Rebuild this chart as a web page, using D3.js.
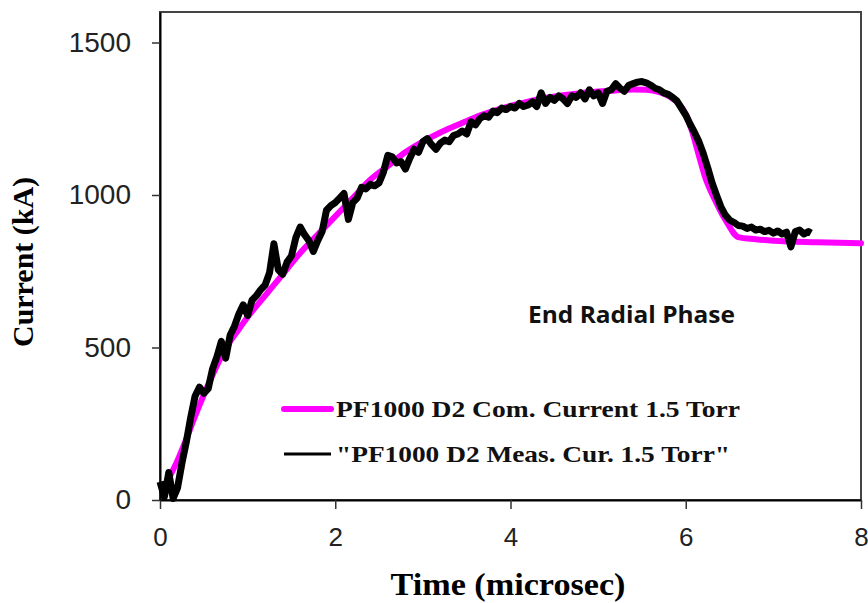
<!DOCTYPE html>
<html>
<head>
<meta charset="utf-8">
<script src="https://cdn.jsdelivr.net/npm/d3@7"></script>
<style>
	body { margin: 0; background: #fff; }
</style>
</head>
<body>
<script>
// computed current (magenta), time in microsec, current in kA
var comTime = [0.09, 0.20, 0.30, 0.40, 0.50, 0.60, 0.70, 0.80, 0.90, 1.00, 1.20, 1.40, 1.60, 1.80, 2.00,
	2.20, 2.40, 2.60, 2.80, 3.00, 3.20, 3.40, 3.60, 3.80, 4.00, 4.20, 4.40, 4.60, 4.80, 5.00, 5.20, 5.40,
	5.55, 5.70, 5.82, 5.92, 6.00, 6.07, 6.14, 6.22, 6.34, 6.46, 6.60, 6.80, 7.00, 7.50, 8.00];
var comCurrent = [65, 130, 200, 275, 345, 410, 470, 520, 560, 600, 670, 740, 810, 870, 930,
	990, 1050, 1095, 1140, 1175, 1205, 1230, 1255, 1275, 1292, 1306, 1318, 1327, 1334, 1339, 1343, 1346,
	1345, 1337, 1322, 1300, 1265, 1210, 1140, 1060, 980, 915, 862, 855, 850, 845, 842];

// measured current (black), read every 0.05 microsec
var measTime = [];
for (var k = 0; k <= 148; k++) measTime.push(+(k * 0.05).toFixed(2));
measTime.push(7.43);
var measCurrent = [60, 10, 90, 5, 40, 120, 190, 270, 340, 370,
	350, 365, 430, 470, 520, 465, 540, 570, 610, 640,
	605, 655, 670, 690, 705, 745, 840, 755, 740, 780,
	800, 860, 895, 870, 850, 815, 850, 880, 950, 965,
	975, 990, 1005, 920, 975, 990, 1025, 1020, 1035, 1030,
	1040, 1075, 1130, 1125, 1105, 1110, 1085, 1120, 1150, 1140,
	1175, 1185, 1165, 1150, 1170, 1180, 1175, 1195, 1200, 1210,
	1200, 1240, 1230, 1250, 1260, 1255, 1275, 1270, 1285, 1280,
	1290, 1285, 1300, 1290, 1295, 1305, 1290, 1335, 1300, 1320,
	1310, 1325, 1315, 1300, 1325, 1320, 1335, 1315, 1345, 1325,
	1335, 1300, 1340, 1345, 1365, 1350, 1340, 1360, 1365, 1370,
	1372, 1368, 1360, 1350, 1345, 1335, 1330, 1320, 1308, 1285,
	1262, 1232, 1205, 1175, 1136, 1090, 1040, 1000, 962, 935,
	918, 910, 900, 898, 890, 895, 885, 888, 880, 884,
	875, 882, 872, 878, 830, 880, 885, 872, 880, 875];

var xTicks = [0, 2, 4, 6, 8];
var yTicks = [0, 500, 1000, 1500];
var seriesNames = ["PF1000 D2 Com. Current 1.5 Torr", "\"PF1000 D2 Meas. Cur. 1.5 Torr\""];

var width = 868;
var height = 603;
var plotLeft = 160, plotRight = 861, plotTop = 12, plotBottom = 500;
var serif = "'Liberation Serif', 'Times New Roman', serif";
var sans = "'Liberation Sans', Arial, sans-serif";

var svg = d3.select("body")
			.append("svg")
			.attr("width", width)
			.attr("height", height);

var xScale = d3.scaleLinear()
			.domain([0, 8])
			.range([plotLeft, plotRight]);

var yScale = d3.scaleLinear()
			.domain([0, 1600])
			.range([plotBottom, plotTop]);

// frame
svg.append("rect")
	.attr("x", plotLeft)
	.attr("y", plotTop)
	.attr("width", plotRight - plotLeft)
	.attr("height", plotBottom - plotTop)
	.attr("fill", "none")
	.attr("stroke", "#444")
	.attr("stroke-width", 2);

var comData = comTime.map(function(t, i){ return [t, comCurrent[i]]; });
var measData = measTime.map(function(t, i){ return [t, measCurrent[i]]; });

var line = d3.line()
			.x(function(d){ return xScale(d[0]); })
			.y(function(d){ return yScale(d[1]); })
			.curve(d3.curveMonotoneX);

svg.append("path")
	.datum(comData)
	.attr("d", line)
	.attr("fill", "none")
	.attr("stroke", "#ff00ff")
	.attr("stroke-width", 6)
	.attr("stroke-linecap", "round");

svg.append("path")
	.datum(measData)
	.attr("d", d3.line()
		.x(function(d){ return xScale(d[0]); })
		.y(function(d){ return yScale(d[1]); }))
	.attr("fill", "none")
	.attr("stroke", "#000")
	.attr("stroke-width", 7)
	.attr("stroke-linejoin", "round");

// axes
var xAxis = d3.axisBottom(xScale)
			.tickValues(xTicks)
			.tickSize(9)
			.tickSizeOuter(0)
			.tickPadding(19);

var yAxis = d3.axisLeft(yScale)
			.tickValues(yTicks)
			.tickFormat(d3.format("d"))
			.tickSize(8)
			.tickSizeOuter(0)
			.tickPadding(21);

var gx = svg.append("g")
	.attr("transform", "translate(0," + plotBottom + ")")
	.call(xAxis);
gx.select(".domain").attr("stroke", "#000").attr("stroke-width", 2);
gx.selectAll(".tick line").attr("stroke", "#333").attr("stroke-width", 1.5);
gx.selectAll(".tick text")
	.attr("font-family", sans)
	.attr("font-size", "26px")
	.attr("fill", "#222");

var gy = svg.append("g")
	.attr("transform", "translate(" + plotLeft + ",0)")
	.call(yAxis);
gy.select(".domain").attr("stroke", "#000").attr("stroke-width", 2);
gy.selectAll(".tick line").attr("stroke", "#333").attr("stroke-width", 1.5);
gy.selectAll(".tick text")
	.attr("font-family", sans)
	.attr("font-size", "28px")
	.attr("fill", "#222");

// axis titles
svg.append("text")
	.attr("x", 508)
	.attr("y", 595)
	.attr("text-anchor", "middle")
	.attr("font-family", serif)
	.attr("font-weight", "bold")
	.attr("font-size", "32px")
	.attr("textLength", 235)
	.attr("lengthAdjust", "spacingAndGlyphs")
	.text("Time  (microsec)");

svg.append("text")
	.attr("transform", "translate(33,262) rotate(-90)")
	.attr("text-anchor", "middle")
	.attr("font-family", serif)
	.attr("font-weight", "bold")
	.attr("font-size", "29px")
	.attr("textLength", 170)
	.attr("lengthAdjust", "spacingAndGlyphs")
	.text("Current (kA)");

// annotation
svg.append("text")
	.attr("x", 528)
	.attr("y", 323)
	.attr("font-family", "'Open Sans', sans-serif")
	.attr("font-weight", "bold")
	.attr("font-size", "24px")
	.attr("textLength", 207)
	.attr("lengthAdjust", "spacingAndGlyphs")
	.attr("fill", "#111")
	.text("End Radial Phase");

// legend
var legendColors = ["#ff00ff", "#000"];
var legendWidths = [6, 3];
var legendY = [409, 454];
var legendLen = [404, 394];

var legend = svg.selectAll(".legend")
			.data(seriesNames)
			.enter()
				.append("g")
				.attr("class", "legend")
				.attr("transform", function(d, i){ return "translate(0," + legendY[i] + ")"; });

legend.append("line")
	.attr("x1", 284)
	.attr("x2", 331)
	.attr("stroke", function(d, i){ return legendColors[i]; })
	.attr("stroke-width", function(d, i){ return legendWidths[i]; })
	.attr("stroke-linecap", function(d, i){ return i == 0 ? "round" : "butt"; });

legend.append("text")
	.attr("x", 336)
	.attr("y", 8)
	.attr("font-family", serif)
	.attr("font-weight", "bold")
	.attr("font-size", "23px")
	.attr("textLength", function(d, i){ return legendLen[i]; })
	.attr("lengthAdjust", "spacingAndGlyphs")
	.attr("fill", "#111")
	.text(function(d){ return d; });
</script>
</body>
</html>
